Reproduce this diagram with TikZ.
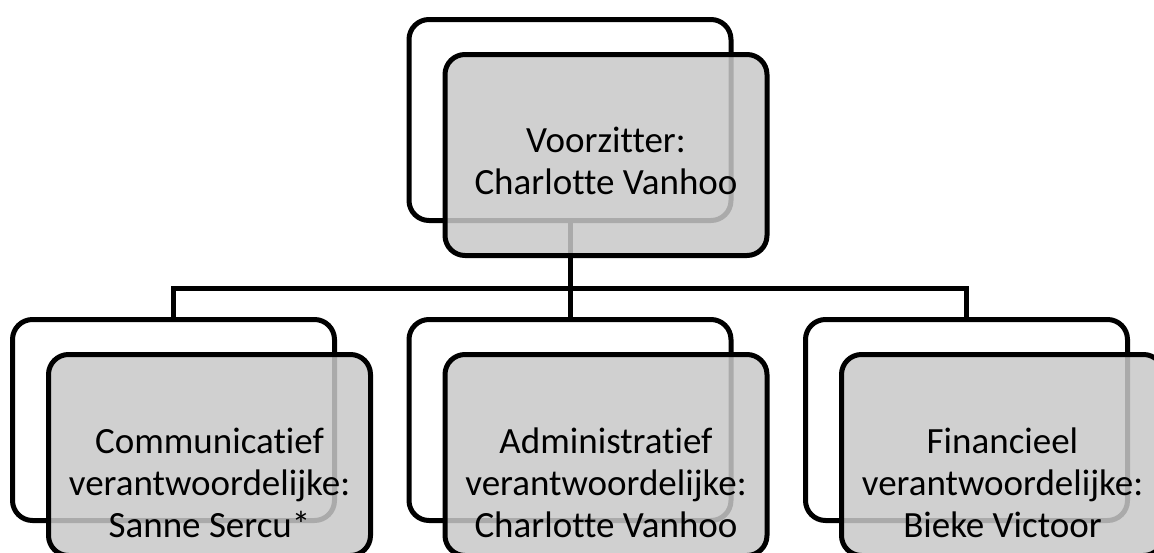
\documentclass[tikz,border=0pt]{standalone}
\usepackage{fontspec}
\setmainfont{Carlito}[Ligatures=NoCommon]
\definecolor{boxgray}{RGB}{200,200,200}
\begin{document}
\begin{tikzpicture}[x=1pt, y=-1pt, line width=5pt]
        \tikzstyle{back}=[draw, rounded corners=20pt, minimum width=322pt, minimum height=201pt, inner sep=0pt]
        \tikzstyle{front}=[back, fill=boxgray, fill opacity=0.85]
        \tikzstyle{txt}=[align=center, font=\fontsize{37}{42}\selectfont]
        \useasboundingbox (0,0) rectangle (1154,552);
        \node [back] (voorz-b) at (570,120) {};
        \node [back] (comm-b) at (173.5,420) {};
        \node [back] (admin-b) at (570,420) {};
        \node [back] (fin-b) at (966.5,420) {};
        \coordinate (bar) at (570,288);
        \draw (voorz-b.south) -- (admin-b.north);
        \draw (comm-b.north) |- (bar) -| (fin-b.north);
        \node [front] (voorz) at (606,155) {};
        \node [front] (comm) at (209.5,455) {};
        \node [front] (admin) at (606,455) {};
        \node [front] (fin) at (1002.5,455) {};
        \node [txt] (voorz-t) at ([yshift=-6pt]voorz.center) {Voorzitter:\\Charlotte Vanhoo};
        \node [txt] (comm-t) at ([yshift=-28pt]comm.center) {Communicatief\\verantwoordelijke:\\Sanne Sercu*};
        \node [txt] (admin-t) at ([yshift=-28pt]admin.center) {Administratief\\verantwoordelijke:\\Charlotte Vanhoo};
        \node [txt] (fin-t) at ([yshift=-28pt]fin.center) {Financieel\\verantwoordelijke:\\Bieke Victoor};
\end{tikzpicture}
\end{document}
